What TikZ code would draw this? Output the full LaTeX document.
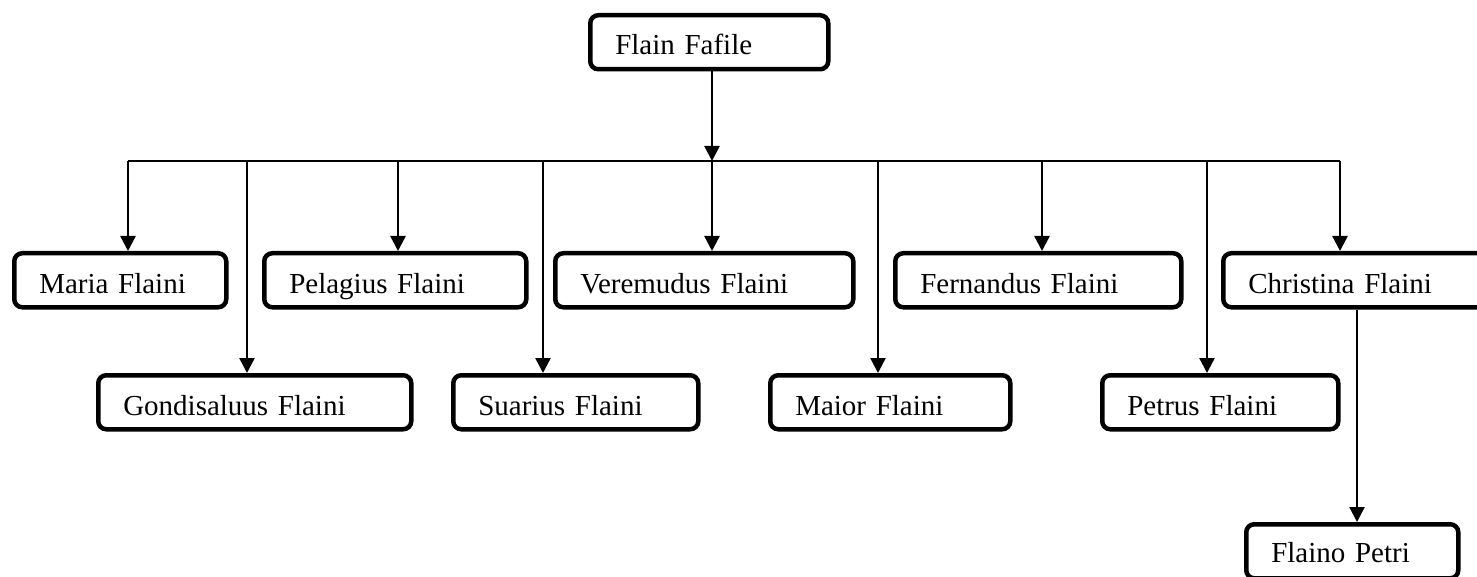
\documentclass[tikz,border=0pt]{standalone}
\usepackage{fontspec}
\setmainfont{Liberation Serif}
\usetikzlibrary{arrows.meta}
\begin{document}
\begin{tikzpicture}[x=1pt,y=-1pt,
  box/.style={draw, line width=4.5pt, rounded corners=8pt, anchor=north west,
    inner xsep=25pt, inner ysep=0pt, align=left, text height=40pt, text depth=14pt,
    font=\fontsize{29pt}{34pt}\selectfont},
  arr/.style={line width=2.4pt, -{Triangle[length=15pt,width=15pt]}},
  busline/.style={line width=1.6pt}]
\useasboundingbox (0,0) rectangle (1477,577);
\clip (0,0) rectangle (1477,577);
% top
\node[box, text width=188pt, text height=39pt, text depth=15pt] (flain) at (588,13) {Flain Fafile};
% row 1
\node[box, text width=162pt] (maria) at (12,251) {Maria Flaini};
\node[box, text width=212pt] (pel) at (262,251) {Pelagius Flaini};
\node[box, text width=248pt] (ver) at (553,251) {Veremudus Flaini};
\node[box, text width=236pt] (fern) at (893,251) {Fernandus Flaini};
\node[box, text width=227pt] (chris) at (1221,251) {Christina Flaini};
% row 2
\node[box, text width=263pt] (gond) at (96,373) {Gondisaluus Flaini};
\node[box, text width=195pt] (suar) at (451,373) {Suarius Flaini};
\node[box, text width=190pt] (maior) at (768,373) {Maior Flaini};
\node[box, text width=186pt] (petr) at (1100,373) {Petrus Flaini};
% row 3
\node[box, text width=162pt, text height=38pt, text depth=16pt] (flaino) at (1244,522) {Flaino Petri};
% bus
\coordinate (busL) at (128,161);
\coordinate (busR) at (1340,161);
\draw[busline] (busL) -- (busR);
\coordinate (bt) at (712,161);
\draw[arr] (flain.south -| bt) -- (bt);
\foreach \x/\n in {128/maria, 247/gond, 398/pel, 543/suar, 712/ver, 878/maior, 1042/fern, 1207/petr, 1340/chris}{
  \coordinate (d-\n) at (\x,161);
  \draw[arr] (d-\n) -- (d-\n |- \n.north);
}
\coordinate (cx) at (1357,0);
\draw[arr] (chris.south -| cx) -- (flaino.north -| cx);
\end{tikzpicture}
\end{document}
